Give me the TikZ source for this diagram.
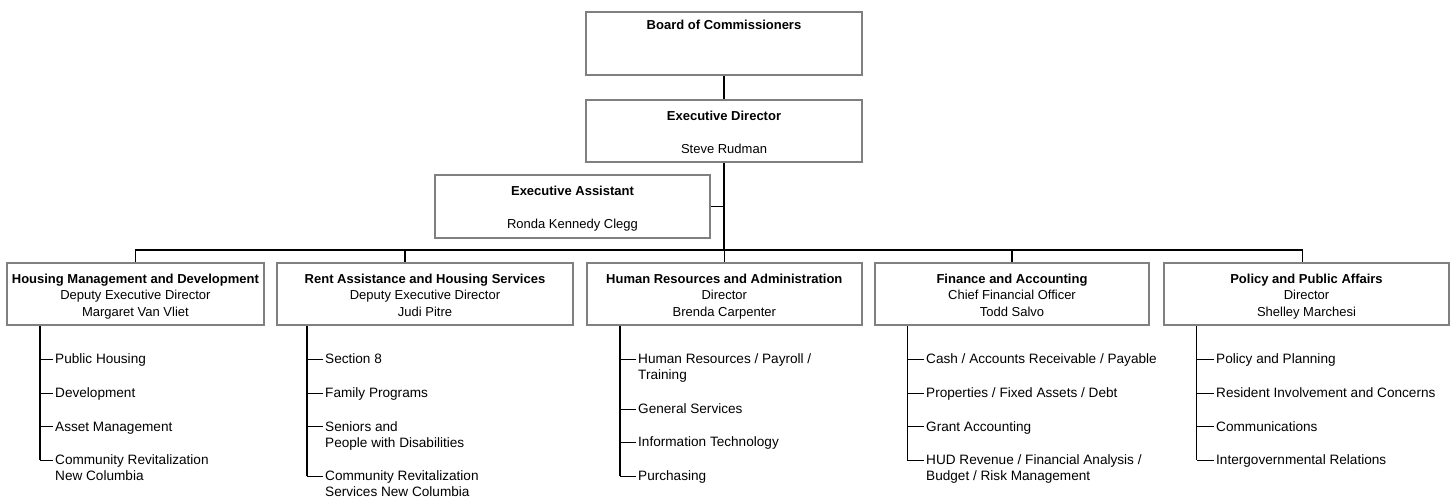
\documentclass[tikz,border=0pt]{standalone}
\usepackage{fontspec}
\setmainfont{Liberation Sans}
\usetikzlibrary{calc}
\definecolor{edgegray}{RGB}{128,128,128}
\newcommand{\headstrut}{\rule{0pt}{16.5pt}}

\begin{document}
\begin{tikzpicture}[x=1pt,y=-1pt,
    every node/.style={font=\fontsize{13}{16.5}\selectfont},
    unit/.style={draw=edgegray,line width=2pt,fill=white,align=center,inner sep=0pt},
    link/.style={line width=1.5pt},
    trunk/.style={line width=1.5pt},
    tick/.style={line width=1pt},
    item/.style={anchor=north west,align=left,inner sep=0pt,font=\fontsize{13.6}{16}\selectfont}]
    \useasboundingbox (0,0) rectangle (1454,500);

    % board, director and assistant
    \node[unit,minimum width=276,minimum height=63] (board) at (724,43.5) {};
    \node[font=\fontsize{13}{16.5}\selectfont\bfseries] at ($(board.north)+(0,14)$) {Board of Commissioners};
    \node[unit,minimum width=276,minimum height=62] (ed) at (724,131) {\headstrut\textbf{Executive Director}\\[16.5pt]\strut Steve Rudman};
    \node[unit,minimum width=275,minimum height=63] (ea) at (572.5,206.5) {\headstrut\textbf{Executive Assistant}\\[16.5pt]\strut Ronda Kennedy Clegg};

    % departments
    \node[unit,minimum width=257,minimum height=62] (hmd) at (135.4,294) {\headstrut\textbf{Housing Management and Development}\\Deputy Executive Director\\\strut Margaret Van Vliet};
    \node[unit,minimum width=296,minimum height=62] (rahs) at (425,294) {\headstrut\textbf{Rent Assistance and Housing Services}\\Deputy Executive Director\\\strut Judi Pitre};
    \node[unit,minimum width=275,minimum height=62] (hra) at (724.3,294) {\headstrut\textbf{Human Resources and Administration}\\Director\\\strut Brenda Carpenter};
    \node[unit,minimum width=274,minimum height=62] (fa) at (1012,294) {\headstrut\textbf{Finance and Accounting}\\Chief Financial Officer\\\strut Todd Salvo};
    \node[unit,minimum width=285,minimum height=62] (ppa) at (1306.5,294) {\headstrut\textbf{Policy and Public Affairs}\\Director\\\strut Shelley Marchesi};

    % reporting lines
    \coordinate (bus) at (724,250);
    \draw[link] (board) -- (ed);
    \draw[link] (ed) -- (bus);
    \draw[link] (ea) -- (ea -| bus);
    \draw[link] (hmd.north |- bus) -- ([xshift=-4]ppa.north |- bus);
    \foreach \d/\s in {hmd/0,rahs/-20,hra/0,fa/0,ppa/-4}
        \draw[link] ([xshift=\s]\d.north) -- ([xshift=\s]\d.north |- bus);

    % sections under each department
    \foreach \d/\off in {hmd/34,rahs/31,hra/34,fa/33.3,ppa/33.7}
        \coordinate (\d-t) at ([xshift=\off]\d.south west);

    \foreach \y/\txt [count=\i] in {359/Public Housing,393/Development,426.5/Asset Management,460/{Community Revitalization\\New Columbia}} {
        \node[item] (hmd\i) at (55,\y-6.5) {\strut\txt};
        \coordinate (hmd\i-tip) at ([shift={(-2,6.5)}]hmd\i.north west);
        \draw[tick] (hmd\i-tip) -- (hmd-t |- hmd\i-tip);
    }
    \draw[trunk] (hmd-t) -- (hmd-t |- hmd4-tip);

    \foreach \y/\txt [count=\i] in {359/Section 8,393/Family Programs,426.5/{Seniors and\\People with Disabilities},476/{Community Revitalization\\Services New Columbia}} {
        \node[item] (rahs\i) at (325,\y-6.5) {\strut\txt};
        \coordinate (rahs\i-tip) at ([shift={(-2,6.5)}]rahs\i.north west);
        \draw[tick] (rahs\i-tip) -- (rahs-t |- rahs\i-tip);
    }
    \draw[trunk] (rahs-t) -- (rahs-t |- rahs4-tip);

    \foreach \y/\txt [count=\i] in {359/{Human Resources / Payroll /\\Training},409/General Services,442/Information Technology,476/Purchasing} {
        \node[item] (hra\i) at (638,\y-6.5) {\strut\txt};
        \coordinate (hra\i-tip) at ([shift={(-2,6.5)}]hra\i.north west);
        \draw[tick] (hra\i-tip) -- (hra-t |- hra\i-tip);
    }
    \draw[trunk] (hra-t) -- (hra-t |- hra4-tip);

    \foreach \y/\txt [count=\i] in {359/{Cash / Accounts Receivable / Payable},393/{Properties / Fixed Assets / Debt},426.5/Grant Accounting,460/{HUD Revenue / Financial Analysis /\\Budget / Risk Management}} {
        \node[item] (fa\i) at (926,\y-6.5) {\strut\txt};
        \coordinate (fa\i-tip) at ([shift={(-2,6.5)}]fa\i.north west);
        \draw[tick] (fa\i-tip) -- (fa-t |- fa\i-tip);
    }
    \draw[trunk] (fa-t) -- (fa-t |- fa4-tip);

    \foreach \y/\txt [count=\i] in {359/Policy and Planning,393/Resident Involvement and Concerns,426.5/Communications,460/Intergovernmental Relations} {
        \node[item] (ppa\i) at (1216,\y-6.5) {\strut\txt};
        \coordinate (ppa\i-tip) at ([shift={(-2,6.5)}]ppa\i.north west);
        \draw[tick] (ppa\i-tip) -- (ppa-t |- ppa\i-tip);
    }
    \draw[trunk] (ppa-t) -- (ppa-t |- ppa4-tip);
\end{tikzpicture}
\end{document}
